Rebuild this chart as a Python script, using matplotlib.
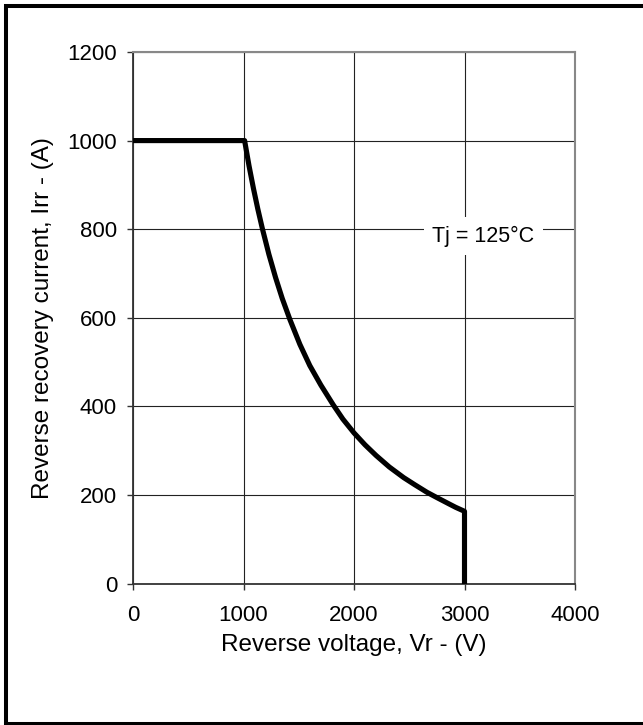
import matplotlib
matplotlib.use("Agg")
import matplotlib.pyplot as plt
from matplotlib.lines import Line2D

plt.rcParams["font.family"] = ["Liberation Sans", "DejaVu Sans"]

# curve (Tj = 125 C)
VR = [0, 1010, 1050, 1090, 1130, 1170, 1230, 1290, 1350, 1420, 1510, 1600, 1700, 1813,
      1900, 2000, 2100, 2200, 2320, 2450, 2550, 2660, 2750, 2850, 2920, 3000, 3000]
IRR = [1000, 1000, 943, 892, 845, 802, 743, 691, 644, 596, 540, 492, 448, 403,
       371, 340, 313, 289, 263, 239, 223, 206, 194, 181, 172, 163, 0]

X_TICKS = [0, 1000, 2000, 3000, 4000]
Y_TICKS = [0, 200, 400, 600, 800, 1000, 1200]
NOTE = "Tj = 125°C"


def main():
    fig = plt.figure(figsize=(6.43, 7.25), dpi=100)
    ax = fig.add_axes([133 / 643, 141.5 / 725, 442 / 643, 531.5 / 725])

    ax.plot(VR, IRR, color="black", lw=3.7, solid_joinstyle="round", zorder=4)

    ax.set_xlim(0, 4000)
    ax.set_ylim(0, 1200)
    ax.set_xticks(X_TICKS)
    ax.set_yticks(Y_TICKS)
    ax.tick_params(axis="both", direction="out", length=4.5, width=1, color="#333333",
                   labelsize=16)
    ax.tick_params(axis="x", pad=11)
    ax.tick_params(axis="y", pad=7)
    ax.set_axisbelow(True)
    ax.grid(True, color="#222222", lw=0.8)

    for s in ("left", "bottom"):
        ax.spines[s].set_color("#333333")
        ax.spines[s].set_linewidth(1.3)
    for s in ("right", "top"):
        ax.spines[s].set_color("#888888")
        ax.spines[s].set_linewidth(1.5)

    ax.set_xlabel("Reverse voltage, Vr - (V)", fontsize=17.5, labelpad=6)
    ax.set_ylabel("Reverse recovery current, Irr - (A)", fontsize=17.5, labelpad=10)

    ax.text(3170, 784, NOTE, ha="center", va="center", fontsize=15.5, zorder=5,
            bbox=dict(facecolor="white", edgecolor="none", pad=6))

    # thick outer frame (right edge cropped off in the reference)
    lx, ty, by = 6 / 643, 1 - 6 / 725, 1.5 / 725
    fig.add_artist(Line2D([1.2, lx, lx, 1.2], [ty, ty, by, by], transform=fig.transFigure,
                          color="black", lw=2.9, solid_joinstyle="miter"))

    fig.savefig("out.png", dpi=100)
    plt.close(fig)


if __name__ == "__main__":
    main()
